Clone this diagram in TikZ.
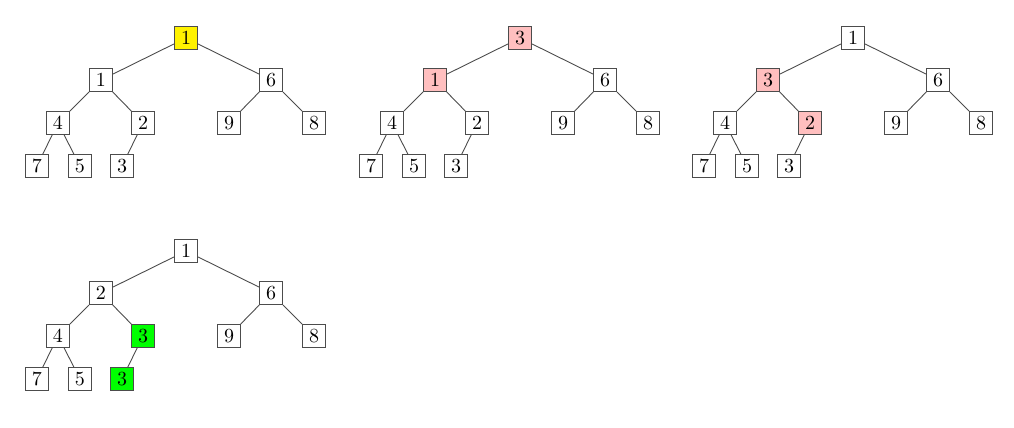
\documentclass[tikz,border=0pt]{standalone}
\begin{document}
\begin{tikzpicture}[x=0.5pt,y=-0.5pt,
  hnode/.style={draw=black!70, line width=0.5pt, fill=white, minimum size=11.5pt, inner sep=0.5pt, font=\normalsize},
  hedge/.style={draw=black!70, line width=0.45pt},
  hyellow/.style={fill=yellow},
  hpink/.style={fill=red!25},
  hgreen/.style={fill=green}]
\useasboundingbox (0,0) rectangle (1014,428);
% \heap{prefix}{x}{y}{nodes}: a binary heap of ten keys and its edges
\newcommand{\heap}[4]{%
  \begin{scope}[shift={(#2,#3)}]
  #4
  \draw[hedge] (#1r) -- (#1a);
  \draw[hedge] (#1r) -- (#1b);
  \draw[hedge] (#1a) -- (#1c);
  \draw[hedge] (#1a) -- (#1d);
  \draw[hedge] (#1b) -- (#1e);
  \draw[hedge] (#1b) -- (#1f);
  \draw[hedge] (#1c) -- (#1g);
  \draw[hedge] (#1c) -- (#1h);
  \draw[hedge] (#1d) -- (#1i);
  \end{scope}}
% first heap: root highlighted
\heap{p}{186}{38}{%
  \node[hnode,hyellow] (pr) at (0,0) {1};
  \node[hnode] (pa) at (-85,42) {1};
  \node[hnode] (pb) at (85,42) {6};
  \node[hnode] (pc) at (-128,85) {4};
  \node[hnode] (pd) at (-43,85) {2};
  \node[hnode] (pe) at (43,85) {9};
  \node[hnode] (pf) at (128,85) {8};
  \node[hnode] (pg) at (-149,128) {7};
  \node[hnode] (ph) at (-106,128) {5};
  \node[hnode] (pi) at (-64,128) {3};}
% second heap
\heap{q}{520}{38}{%
  \node[hnode,hpink] (qr) at (0,0) {3};
  \node[hnode,hpink] (qa) at (-85,42) {1};
  \node[hnode] (qb) at (85,42) {6};
  \node[hnode] (qc) at (-128,85) {4};
  \node[hnode] (qd) at (-43,85) {2};
  \node[hnode] (qe) at (43,85) {9};
  \node[hnode] (qf) at (128,85) {8};
  \node[hnode] (qg) at (-149,128) {7};
  \node[hnode] (qh) at (-106,128) {5};
  \node[hnode] (qi) at (-64,128) {3};}
% third heap
\heap{s}{853}{38}{%
  \node[hnode] (sr) at (0,0) {1};
  \node[hnode,hpink] (sa) at (-85,42) {3};
  \node[hnode] (sb) at (85,42) {6};
  \node[hnode] (sc) at (-128,85) {4};
  \node[hnode,hpink] (sd) at (-43,85) {2};
  \node[hnode] (se) at (43,85) {9};
  \node[hnode] (sf) at (128,85) {8};
  \node[hnode] (sg) at (-149,128) {7};
  \node[hnode] (sh) at (-106,128) {5};
  \node[hnode] (si) at (-64,128) {3};}
% fourth heap
\heap{t}{186}{251}{%
  \node[hnode] (tr) at (0,0) {1};
  \node[hnode] (ta) at (-85,42) {2};
  \node[hnode] (tb) at (85,42) {6};
  \node[hnode] (tc) at (-128,85) {4};
  \node[hnode,hgreen] (td) at (-43,85) {3};
  \node[hnode] (te) at (43,85) {9};
  \node[hnode] (tf) at (128,85) {8};
  \node[hnode] (tg) at (-149,128) {7};
  \node[hnode] (th) at (-106,128) {5};
  \node[hnode,hgreen] (ti) at (-64,128) {3};}
\end{tikzpicture}
\end{document}
